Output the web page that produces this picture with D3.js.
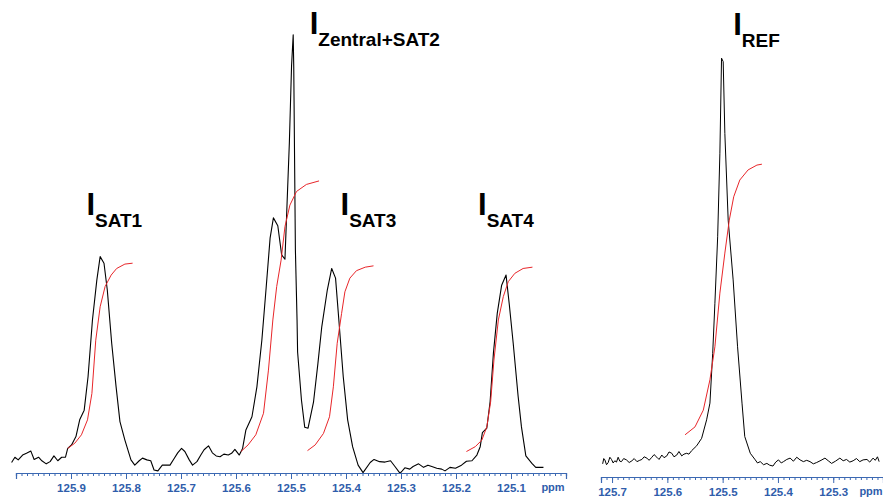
<!DOCTYPE html>
<html>
<head>
<meta charset="utf-8">
<script src="https://cdn.jsdelivr.net/npm/d3@7"></script>
<style>
  body { margin: 0; background: #fff; }
  svg { display: block; }
</style>
</head>
<body>
<svg id="chart" width="883" height="498"></svg>
<script>
// spectrum 1: satellites + central signal  [ppm, intensity]
const spectrumPpm = [126.008,126.002,125.996,125.988,125.981,125.973,125.967,125.959,125.953,125.945,125.938,125.931,125.924,125.917,125.910,125.906,125.899,125.891,125.884,125.876,125.869,125.861,125.853,125.847,125.840,125.834,125.826,125.818,125.811,125.802,125.791,125.784,125.776,125.770,125.762,125.755,125.749,125.742,125.734,125.726,125.720,125.713,125.706,125.699,125.693,125.685,125.679,125.671,125.664,125.658,125.650,125.643,125.636,125.629,125.622,125.614,125.608,125.602,125.594,125.588,125.582,125.571,125.562,125.553,125.545,125.538,125.532,125.524,125.517,125.511,125.503,125.499,125.496,125.495,125.492,125.489,125.488,125.481,125.475,125.469,125.459,125.451,125.444,125.434,125.426,125.419,125.413,125.405,125.397,125.388,125.378,125.369,125.356,125.349,125.339,125.329,125.319,125.311,125.302,125.299,125.293,125.284,125.278,125.268,125.259,125.251,125.244,125.235,125.226,125.220,125.211,125.201,125.190,125.181,125.171,125.162,125.156,125.152,125.144,125.138,125.132,125.125,125.117,125.109,125.103,125.096,125.087,125.081,125.073,125.062,125.055,125.041];
const spectrumInt = [1.7,2.9,2.3,3.4,3.8,4.3,2.4,2.9,2.1,1.4,1.9,3.2,2.1,2.9,2.9,4.9,5.7,7.6,11.5,13.6,21.2,34.1,43.2,48.5,47.0,40.9,28.8,18.9,11.0,6.8,2.3,1.1,2.1,2.7,2.3,2.1,0.0,-0.2,1.1,1.1,1.1,2.5,3.9,4.9,4.2,2.3,1.1,1.9,3.4,4.6,5.5,3.9,3.2,3.0,3.6,3.4,3.8,4.7,3.4,4.9,9.1,12.1,18.9,29.5,41.7,52.7,57.3,55.5,48.9,47.9,74.3,91.8,98.9,91.6,50.0,34.1,26.8,15.9,9.7,9.5,15.5,24.3,32.6,40.9,45.8,43.6,34.1,21.2,11.4,5.3,1.1,-0.6,1.7,2.4,1.9,1.8,2.1,0.8,-0.7,-0.4,0.5,0.2,0.8,1.4,0.6,1.1,0.8,0.4,0.2,-0.2,0.6,0.4,1.1,2.0,2.1,3.4,5.3,8.5,9.5,15.5,26.5,35.6,42.0,44.3,37.5,28.8,16.7,9.8,3.2,1.5,0.6,0.6];

// integral curves, spectrum 1
const integrals = [
  { ppm: [125.906,125.893,125.881,125.870,125.862,125.855,125.847,125.838,125.827,125.817,125.802,125.788],
    val: [4.9,6.1,8.0,11.4,17.4,29.5,37.1,41.7,44.3,45.8,46.8,47.0] },
  { ppm: [125.591,125.578,125.564,125.550,125.541,125.533,125.526,125.518,125.511,125.502,125.490,125.472,125.449],
    val: [4.2,5.7,8.0,12.9,22.7,34.1,41.7,47.7,55.3,60.2,63.3,64.9,65.7] },
  { ppm: [125.470,125.456,125.441,125.430,125.423,125.416,125.408,125.402,125.393,125.381,125.365,125.350],
    val: [4.4,5.7,8.3,12.1,18.9,28.8,35.6,40.5,43.6,45.3,46.1,46.4] },
  { ppm: [125.181,125.165,125.153,125.144,125.137,125.131,125.123,125.114,125.105,125.093,125.078,125.061],
    val: [4.2,5.3,6.8,9.8,15.5,25.0,34.1,39.4,42.8,44.7,45.8,46.1] }
];

// spectrum 2: reference
const refPpm = [125.717,125.715,125.713,125.710,125.707,125.704,125.701,125.698,125.695,125.692,125.689,125.686,125.683,125.679,125.674,125.669,125.664,125.660,125.655,125.650,125.646,125.642,125.637,125.633,125.628,125.624,125.619,125.615,125.610,125.606,125.601,125.597,125.592,125.588,125.583,125.579,125.574,125.570,125.565,125.561,125.556,125.547,125.538,125.529,125.523,125.518,125.514,125.509,125.505,125.502,125.499,125.496,125.490,125.481,125.473,125.465,125.460,125.450,125.441,125.437,125.432,125.426,125.420,125.415,125.409,125.404,125.399,125.394,125.390,125.384,125.378,125.372,125.366,125.360,125.354,125.348,125.342,125.336,125.330,125.322,125.315,125.309,125.303,125.296,125.288,125.282,125.276,125.270,125.264,125.258,125.252,125.246,125.239,125.234,125.228,125.224,125.220,125.217];
const refInt = [1.4,2.6,2.3,1.2,1.7,2.9,2.4,1.6,2.1,1.8,2.9,2.0,1.9,2.6,2.3,1.7,2.1,2.6,1.9,2.2,2.4,3.0,2.7,2.2,2.9,3.5,2.9,2.4,3.4,2.8,3.2,4.1,3.8,3.0,3.4,4.2,3.2,3.6,3.8,3.6,4.4,5.5,7.2,11.4,15.2,26.5,37.9,53.0,72.0,93.6,92.8,76.5,56.8,43.2,28.0,15.2,7.6,3.8,2.3,1.6,1.9,1.2,1.5,1.1,0.9,1.8,2.3,1.6,1.9,2.4,2.7,2.0,2.9,2.3,1.9,2.2,1.9,1.4,1.7,2.2,2.7,2.1,1.5,2.0,2.7,2.1,2.4,1.8,2.1,2.6,1.9,2.3,2.4,1.8,2.7,2.2,3.0,1.9];
const refIntegralPpm = [125.568,125.550,125.535,125.523,125.514,125.505,125.496,125.488,125.480,125.469,125.454,125.438,125.429];
const refIntegralVal = [8.0,9.8,13.6,20.5,28.0,40.2,49.3,56.8,62.1,65.9,68.2,69.3,69.5];

// labels: main letter, subscript, position (ppm, intensity)
const labels = [
  { sub: "SAT1", ppm: 125.872, v: 58.0, panel: 0 },
  { sub: "Zentral+SAT2", ppm: 125.466, v: 99.0, panel: 0 },
  { sub: "SAT3", ppm: 125.410, v: 58.0, panel: 0 },
  { sub: "SAT4", ppm: 125.160, v: 58.0, panel: 0 },
  { sub: "REF", ppm: 125.481, v: 98.9, panel: 1 }
];

const leftMajor = [126.0,125.9,125.8,125.7,125.6,125.5,125.4,125.3,125.2,125.1,125.0];
const leftLabels = ["", "125.9","125.8","125.7","125.6","125.5","125.4","125.3","125.2","125.1",""];
const rightMajor = [125.7,125.6,125.5,125.4,125.3];
const rightLabels = ["125.7","125.6","125.5","125.4","125.3"];

const svg = d3.select("#chart");
const axisColor = "#3b68b2";
const labelColor = "#2f5dab";

const xL = d3.scaleLinear().domain([126.0, 125.0]).range([16, 566]);
const xR = d3.scaleLinear().domain([125.72, 125.21]).range([601, 883]);
const y = d3.scaleLinear().domain([0, 100]).range([470, 30]);

function drawLine(xs, ppm, val, color, w) {
  const line = d3.line().x(d => xs(d[0])).y(d => y(d[1]));
  svg.append("path")
    .attr("d", line(d3.zip(ppm, val)))
    .attr("fill", "none")
    .attr("stroke", color)
    .attr("stroke-width", w)
    .attr("stroke-linejoin", "round");
}

drawLine(xL, spectrumPpm, spectrumInt, "#000", 1.1);
integrals.forEach(c => drawLine(xL, c.ppm, c.val, "#e8262a", 1));
drawLine(xR, refPpm, refInt, "#000", 1);
drawLine(xR, refIntegralPpm, refIntegralVal, "#e8262a", 1);

function drawAxis(xs, yPos, major, majorLabels, ppmX) {
  const [d0, d1] = xs.domain();
  const minor = d3.range(Math.round(d1 * 100), Math.round(d0 * 100) + 1).map(d => d / 100);
  const g = svg.append("g").attr("transform", `translate(0,${yPos})`);
  g.append("g").call(d3.axisBottom(xs).tickValues(minor).tickSize(3).tickFormat(""));
  g.append("g").call(d3.axisBottom(xs).tickValues(major).tickSize(6)
      .tickFormat((d, i) => majorLabels[i]));
  g.selectAll(".domain").attr("stroke", axisColor).attr("stroke-width", 1.2);
  g.selectAll(".tick line").attr("stroke", axisColor);
  g.selectAll(".tick text")
    .attr("fill", labelColor)
    .attr("font-family", "Liberation Sans, Arial, sans-serif")
    .attr("font-weight", "bold")
    .attr("font-size", 11.5)
    .attr("dy", "0.85em");
  g.append("text")
    .attr("x", ppmX)
    .attr("y", 18)
    .attr("text-anchor", "middle")
    .attr("fill", labelColor)
    .attr("font-family", "Liberation Sans, Arial, sans-serif")
    .attr("font-weight", "bold")
    .attr("font-size", 11)
    .text("ppm");
}

drawAxis(xL, 473, leftMajor, leftLabels, 553);
drawAxis(xR, 477, rightMajor, rightLabels, 871);

labels.forEach(l => {
  const xs = l.panel === 0 ? xL : xR;
  const t = svg.append("text")
    .attr("x", xs(l.ppm))
    .attr("y", y(l.v))
    .attr("font-family", "Liberation Sans, Arial, sans-serif")
    .attr("font-weight", "bold")
    .attr("fill", "#000");
  t.append("tspan").attr("font-size", 31).text("I");
  t.append("tspan").attr("font-size", 19).attr("dy", 12).text(l.sub);
});
</script>
</body>
</html>
